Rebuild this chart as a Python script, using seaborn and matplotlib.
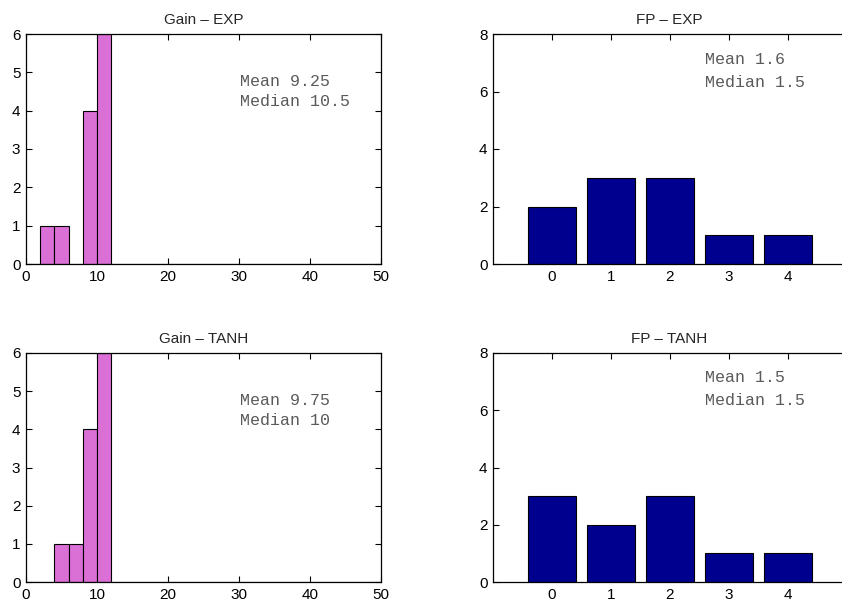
import numpy as np
import pandas as pd
import seaborn as sns
import matplotlib
matplotlib.use("Agg")
import matplotlib.pyplot as plt

# gain histograms (bin centre -> count), bins of width 2 from 0 to 50
gain_exp_values = [3, 5, 9, 11]
gain_exp_counts = [1, 1, 4, 6]
gain_tanh_values = [5, 7, 9, 11]
gain_tanh_counts = [1, 1, 4, 6]

# false positives per category
fp_categories = [0, 1, 2, 3, 4]
fp_exp_counts = [2, 3, 3, 1, 1]
fp_tanh_counts = [3, 2, 3, 1, 1]

gain_exp_stats = ["Mean 9.25", "Median 10.5"]
gain_tanh_stats = ["Mean 9.75", "Median 10"]
fp_exp_stats = ["Mean 1.6", "Median 1.5"]
fp_tanh_stats = ["Mean 1.5", "Median 1.5"]

sns.set_style("ticks")
plt.rcParams['font.family'] = ['Liberation Sans', 'DejaVu Sans']
plt.rcParams['font.size'] = 11

fig = plt.figure(figsize=(8.42, 6.04), dpi=100)
W, H = 842, 604

def make_ax(x0, y0, x1, y1):
    return fig.add_axes([x0 / W, 1 - y1 / H, (x1 - x0) / W, (y1 - y0) / H])

def style(ax, right=True):
    for s in ax.spines.values():
        s.set_linewidth(0.9)
        s.set_color('black')
    ax.tick_params(direction='in', length=4, width=0.8, top=True, right=right,
                   labelsize=11, colors='black', pad=4)
    ax.set_xlabel('')
    ax.set_ylabel('')

def stats_text(ax, x, ys, lines):
    for y, line in zip(ys, lines):
        ax.text(x, y, line, family=['Liberation Mono', 'DejaVu Sans Mono'],
                fontsize=12, color='#5a5a5a', va='center', ha='left')

magenta = '#DA70D6'
navy = '#00008F'

# Gain - EXP
ax1 = make_ax(26, 34, 381, 264)
df1 = pd.DataFrame({'gain': gain_exp_values, 'n': gain_exp_counts})
sns.histplot(data=df1, x='gain', weights='n', binwidth=2, binrange=(0, 50),
             color=magenta, alpha=1, edgecolor='black', linewidth=0.8, ax=ax1)
ax1.set_xlim(0, 50)
ax1.set_ylim(0, 6)
ax1.set_xticks([0, 10, 20, 30, 40, 50])
ax1.set_yticks(range(7))
ax1.set_title('Gain – EXP', fontsize=11, pad=7)
stats_text(ax1, 30.2, [4.75, 4.23], gain_exp_stats)
style(ax1)

# Gain - TANH
ax3 = make_ax(26, 353, 381, 582)
df3 = pd.DataFrame({'gain': gain_tanh_values, 'n': gain_tanh_counts})
sns.histplot(data=df3, x='gain', weights='n', binwidth=2, binrange=(0, 50),
             color=magenta, alpha=1, edgecolor='black', linewidth=0.8, ax=ax3)
ax3.set_xlim(0, 50)
ax3.set_ylim(0, 6)
ax3.set_xticks([0, 10, 20, 30, 40, 50])
ax3.set_yticks(range(7))
ax3.set_title('Gain – TANH', fontsize=11, pad=7)
stats_text(ax3, 30.2, [4.75, 4.23], gain_tanh_stats)
style(ax3)

# FP - EXP (right edge of the axes runs past the figure, as in the original)
ax2 = make_ax(493, 34, 847, 264)
df2 = pd.DataFrame({'fp': fp_categories, 'n': fp_exp_counts})
sns.barplot(data=df2, x='fp', y='n', color=navy, saturation=1, width=0.8,
            edgecolor='black', linewidth=0.8, ax=ax2)
ax2.set_xlim(-1, 5)
ax2.set_ylim(0, 8)
ax2.set_yticks([0, 2, 4, 6, 8])
ax2.set_title('FP – EXP', fontsize=11, pad=7, x=(669 - 493) / (847 - 493))
stats_text(ax2, 2.6, [7.13, 6.33], fp_exp_stats)
style(ax2, right=False)

# FP - TANH
ax4 = make_ax(493, 353, 847, 582)
df4 = pd.DataFrame({'fp': fp_categories, 'n': fp_tanh_counts})
sns.barplot(data=df4, x='fp', y='n', color=navy, saturation=1, width=0.8,
            edgecolor='black', linewidth=0.8, ax=ax4)
ax4.set_xlim(-1, 5)
ax4.set_ylim(0, 8)
ax4.set_yticks([0, 2, 4, 6, 8])
ax4.set_title('FP – TANH', fontsize=11, pad=7, x=(669 - 493) / (847 - 493))
stats_text(ax4, 2.6, [7.13, 6.33], fp_tanh_stats)
style(ax4, right=False)

fig.savefig('out.png', dpi=100, facecolor='white')
